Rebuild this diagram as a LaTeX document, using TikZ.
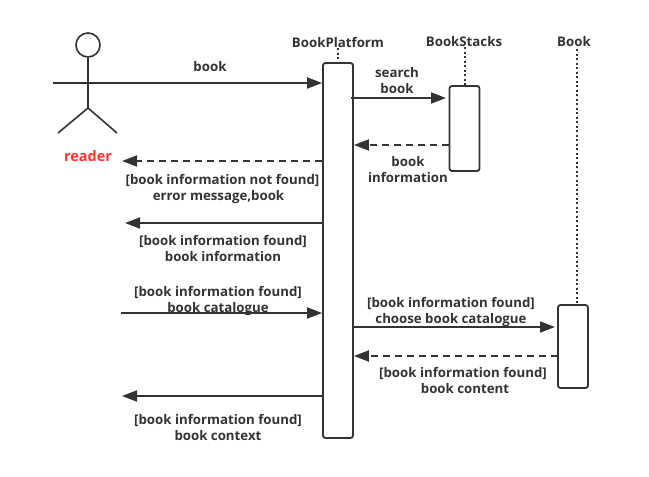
\documentclass[tikz,border=0pt]{standalone}
\usepackage{fontspec}
\setmainfont{Open Sans}
\usetikzlibrary{arrows.meta,positioning}
\definecolor{ink}{HTML}{333333}
\tikzset{
  px/.style={x=1pt,y=-1pt},
  lbl/.style={font=\fontsize{13.25}{16}\selectfont\bfseries,text=ink,align=center,inner sep=0pt},
  actbox/.style={draw=ink,line width=1.8pt,rounded corners=2.5pt,fill=white,minimum width=30pt,inner sep=0pt},
  msg/.style={draw=ink,line width=1.8pt,-{Triangle[length=15pt,width=11pt,fill=ink]}},
  rmsg/.style={msg,dash pattern=on 7pt off 5pt},
  life/.style={draw=ink,line width=2pt,dash pattern=on 2pt off 2.5pt},
  stick/.style={draw=ink,line width=1.6pt}
}
\begin{document}
\begin{tikzpicture}[px]
\useasboundingbox (0,0) rectangle (649,477);
% headers
\node[lbl] (hp) at (338,42) {BookPlatform};
\node[lbl] (hs) at (464,42) {BookStacks};
\node[lbl] (hb) at (574,42) {Book};
\coordinate (lp) at (338,48);
\coordinate (ls) at (465,47);
\coordinate (lb) at (576.5,49);
% activation boxes
\node[actbox,minimum height=375pt] (platform) at (338,250.5) {};
\node[actbox,minimum height=85pt] (stacks) at (464.5,128.5) {};
\node[actbox,minimum height=83pt] (bookbox) at (573,346.5) {};
% lifelines
\draw[life] (lp) -- (lp |- platform.north);
\draw[life] (ls) -- (ls |- stacks.north);
\draw[life] (lb) -- (lb |- bookbox.north);
% actor
\node[draw=ink,line width=1.6pt,circle,minimum size=24pt,inner sep=0pt] (head) at (88,45) {};
\coordinate (hip) at (88,108);
\coordinate (armL) at (53,83);
\coordinate (armR) at (122,83);
\coordinate (legL) at (58,133);
\coordinate (legR) at (117,133);
\draw[stick] (head.south) -- (hip);
\draw[stick] (armL) -- (armR);
\draw[stick] (legL) -- (hip) -- (legR);
\node[lbl,text=red!80!white,font=\fontsize{14.5}{16}\selectfont\bfseries] (reader) at (88,156) {reader};
% free ends
\coordinate (m2e) at (122,161);
\coordinate (m3e) at (125,223);
\coordinate (m4s) at (121,313);
\coordinate (m5e) at (122,396);
\coordinate (s1) at (351,98);
\coordinate (s1e) at (446,98);
\coordinate (s2) at (449,145);
\coordinate (c1e) at (555,327);
\coordinate (c2) at (558,356);
% messages
\draw[msg] (armR) -- (platform.west |- armR);
\draw[msg] (s1) -- (s1e);
\draw[rmsg] (s2) -- (platform.east |- s2);
\draw[rmsg] (platform.west |- m2e) -- (m2e);
\draw[msg] (platform.west |- m3e) -- (m3e);
\draw[msg] (m4s) -- (platform.west |- m4s);
\draw[msg] (platform.east |- c1e) -- (c1e);
\draw[rmsg] (c2) -- (platform.east |- c2);
\draw[msg] (platform.west |- m5e) -- (m5e);
% labels
\node[lbl] (t1) at (210,67) {book};
\node[lbl] (t2) at (397,81) {search\\book};
\node[lbl] (t3) at (408,170) {book\\information};
\node[lbl] (t4) at (222.5,189) {[book information not found]\\error message,book\hspace*{8pt}};
\node[lbl] (t5) at (223,248) {[book information found]\\book information};
\node[lbl] (t6) at (218,301) {[book information found]\\book catalogue};
\node[lbl] (t7) at (451,312) {[book information found]\\choose book catalogue};
\node[lbl] (t8) at (463,380) {[book information found]\\\hspace*{4pt}book content};
\node[lbl] (t9) at (218,427) {[book information found]\\book context};
\end{tikzpicture}
\end{document}
